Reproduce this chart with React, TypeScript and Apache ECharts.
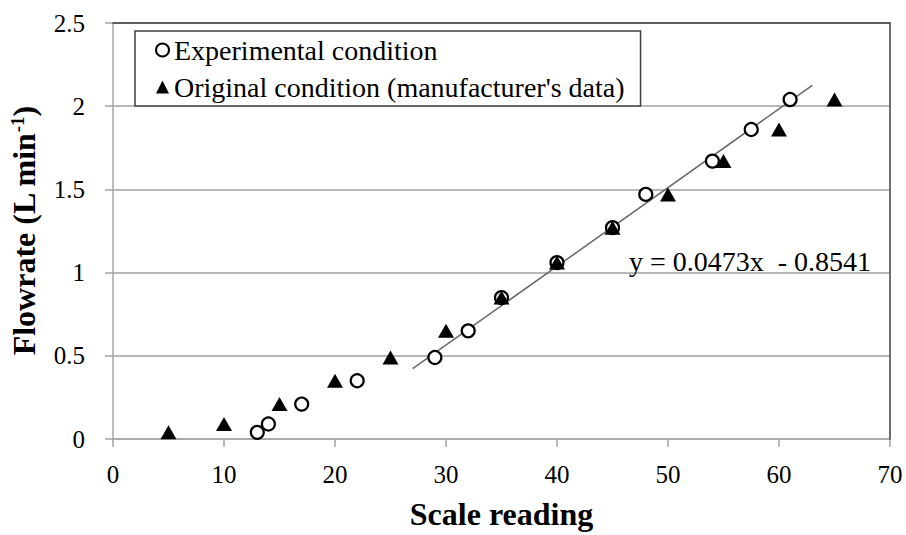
import { useEffect, useRef } from 'react';
import * as echarts from 'echarts';

// Flowrate values (L min-1), shared by both conditions
const flowrate = [0.04, 0.09, 0.21, 0.35, 0.49, 0.65, 0.85, 1.06, 1.27, 1.47, 1.67, 1.86, 2.04];
// Scale readings for each flowrate
const experimentalScale = [13, 14, 17, 22, 29, 32, 35, 40, 45, 48, 54, 57.5, 61];
const originalScale = [5, 10, 15, 20, 25, 30, 35, 40, 45, 50, 55, 60, 65];

// Linear trend of the experimental condition and the x-range it is drawn over
const trendSlope = 0.0473;
const trendIntercept = -0.8541;
const trendRange = [27, 63];

const seriesNames = ['Experimental condition', "Original condition (manufacturer's data)"];

const FONT = "'Liberation Serif', 'Times New Roman', serif";
const AXIS_GRAY = '#a6a6a6';
const FRAME = '#404040';

const tickRich = {
  v: { fontSize: 25, color: '#000', fontFamily: FONT },
};

export default function App() {
  const ref = useRef<HTMLDivElement>(null);

  useEffect(() => {
    const chart = echarts.init(ref.current!, null, { renderer: 'svg' });

    const expData = experimentalScale.map((x, i) => [x, flowrate[i]]);
    const origData = originalScale.map((x, i) => [x, flowrate[i]]);
    const trendData = trendRange.map((x) => [x, trendSlope * x + trendIntercept]);
    const equation = `y = ${trendSlope}x  ${trendIntercept < 0 ? '-' : '+'} ${Math.abs(trendIntercept)}`;

    chart.setOption({
      animation: false,
      backgroundColor: '#fff',
      textStyle: { fontFamily: FONT },
      grid: { left: 113, right: 16, top: 23, bottom: 94 },
      legend: {
        left: 135,
        top: 31,
        orient: 'vertical',
        padding: [5, 16, 5, 20],
        itemGap: 9,
        itemWidth: 13,
        itemHeight: 13,
        borderColor: FRAME,
        borderWidth: 1.5,
        backgroundColor: '#fff',
        textStyle: { fontSize: 28, fontFamily: FONT, color: '#000' },
        data: [
          { name: seriesNames[0], icon: 'circle' },
          { name: seriesNames[1], icon: 'triangle' },
        ],
      },
      xAxis: [
        {
          type: 'value',
          min: 0,
          max: 70,
          interval: 10,
          axisLine: { show: true, onZero: false, lineStyle: { color: AXIS_GRAY, width: 1.5 } },
          axisTick: { show: true, length: 8, lineStyle: { color: AXIS_GRAY, width: 1.5 } },
          axisLabel: {
            margin: 23,
            fontSize: 25,
            color: '#000',
            fontFamily: FONT,
            formatter: (v: number) => `{v|${v}}`,
            rich: tickRich,
          },
          splitLine: { show: false },
          name: 'Scale reading',
          nameLocation: 'middle',
          nameGap: 59,
          nameTextStyle: { fontSize: 32, fontWeight: 'bold', color: '#000', fontFamily: FONT },
        },
        {
          type: 'value',
          position: 'top',
          min: 0,
          max: 70,
          z: 5,
          axisLine: { show: true, onZero: false, lineStyle: { color: FRAME, width: 1.5 } },
          axisTick: { show: false },
          axisLabel: { show: false },
          splitLine: { show: false },
        },
      ],
      yAxis: [
        {
          type: 'value',
          min: 0,
          max: 2.5,
          interval: 0.5,
          axisLine: { show: true, onZero: false, lineStyle: { color: AXIS_GRAY, width: 1.5 } },
          axisTick: { show: true, length: 8, lineStyle: { color: AXIS_GRAY, width: 1.5 } },
          axisLabel: {
            margin: 28,
            fontSize: 25,
            color: '#000',
            fontFamily: FONT,
            formatter: (v: number) => `{v|${v}}`,
            rich: tickRich,
          },
          splitLine: { show: true, lineStyle: { color: '#a0a0a0', width: 1.5 } },
          name: '{t|Flowrate (L min}{s|-1}{t|)}',
          nameLocation: 'middle',
          nameRotate: 90,
          nameGap: 73,
          nameTextStyle: {
            rich: {
              t: { fontSize: 32, fontWeight: 'bold', color: '#000', fontFamily: FONT },
              s: { fontSize: 19, fontWeight: 'bold', color: '#000', fontFamily: FONT, verticalAlign: 'top' },
            },
          },
        },
        {
          type: 'value',
          position: 'right',
          min: 0,
          max: 2.5,
          z: 5,
          axisLine: { show: true, onZero: false, lineStyle: { color: FRAME, width: 1.5 } },
          axisTick: { show: false },
          axisLabel: { show: false },
          splitLine: { show: false },
        },
      ],
      series: [
        {
          name: seriesNames[0],
          type: 'scatter',
          data: expData,
          symbol: 'circle',
          symbolSize: 13,
          itemStyle: { color: '#fff', borderColor: '#000', borderWidth: 2.2, opacity: 1 },
          z: 3,
        },
        {
          name: seriesNames[1],
          type: 'scatter',
          data: origData,
          symbol: 'triangle',
          symbolSize: [16, 14],
          itemStyle: { color: '#000', opacity: 1 },
          z: 4,
        },
        {
          name: 'trend',
          type: 'line',
          data: trendData,
          symbol: 'none',
          silent: true,
          lineStyle: { color: '#666', width: 1.5 },
          z: 2,
        },
      ],
      graphic: [
        {
          type: 'text',
          x: 629,
          y: 261,
          z: 10,
          style: {
            text: equation,
            fontSize: 28,
            fontFamily: FONT,
            fill: '#000',
            verticalAlign: 'middle',
            align: 'left',
          },
        },
      ],
    });

    return () => chart.dispose();
  }, []);

  return (
    <div
      ref={ref}
      style={{ position: 'absolute', left: 0, top: 0, width: 906, height: 535 }}
    />
  );
}
